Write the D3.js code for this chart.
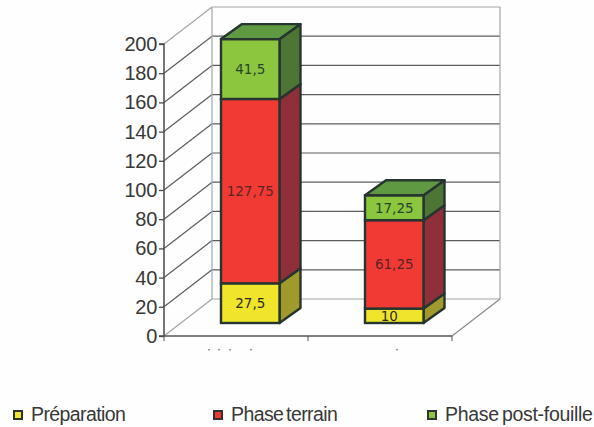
<!DOCTYPE html>
<html>
<head>
<meta charset="utf-8">
<script src="https://cdnjs.cloudflare.com/ajax/libs/d3/7.8.5/d3.min.js"></script>
<style>
html,body{margin:0;padding:0;background:#fefefe;}
svg{display:block;}
</style>
</head>
<body>
<svg id="chart" width="594" height="427"></svg>
<script>
const categories = ["A", "B"];
const seriesNames = ["Préparation", "Phase terrain", "Phase post-fouille"];
const preparation = [27.5, 10];
const phaseTerrain = [127.75, 61.25];
const phasePostFouille = [41.5, 17.25];
const valueTicks = [0, 20, 40, 60, 80, 100, 120, 140, 160, 180, 200];
const valueLabels = [["27,5", "10"], ["127,75", "61,25"], ["41,5", "17,25"]];

const frontColors = ["#f0e52a", "#f23a35", "#8cc63e"];
const sideColors = ["#a09a2c", "#8f2f3a", "#4d7535"];
const topColors = ["#a8a030", "#a03038", "#5f9a42"];
const outline = "#26352f";

const svg = d3.select("#chart");

const y = d3.scaleLinear().domain([0, 200]).range([336, 44]);
const yBar = d3.scaleLinear().domain([0, 200]).range([323, 34.4]);
const x = d3.scaleBand().domain(categories).range([164, 452]);
const depth = { x: 48, y: -37 };
const barDepth = { x: 21, y: -15 };
const barWidth = 58.5;
const barShift = 57;

const pathOf = pts => "M" + pts.map(p => p.join(",")).join("L") + "Z";
const line = (a, b, stroke, w) => svg.append("line")
  .attr("x1", a[0]).attr("y1", a[1]).attr("x2", b[0]).attr("y2", b[1])
  .attr("stroke", stroke).attr("stroke-width", w);

const [x0, x1] = x.range();

// Back wall, left wall and floor edges
valueTicks.forEach(t => {
  const yy = y(t);
  const c = (t === 0 || t === 200) ? "#a5a5a5" : "#5c5c5c";
  line([x0, yy], [x0 + depth.x, yy + depth.y], c, 1.2);
  line([x0 + depth.x, yy + depth.y], [x1 + depth.x, yy + depth.y], c, 1.2);
});
line([x0 + depth.x, y(200) + depth.y], [x0 + depth.x, y(0) + depth.y], "#a5a5a5", 1.2);
line([x1 + depth.x, y(200) + depth.y], [x1 + depth.x, y(0) + depth.y], "#a5a5a5", 1.2);
line([x1, y(0)], [x1 + depth.x, y(0) + depth.y], "#8a8a8a", 1.2);

// Value axis
const axisLeft = d3.axisLeft(y).tickValues(valueTicks).tickSize(5).tickPadding(2).tickFormat(d3.format("d"));
const gy = svg.append("g").attr("transform", `translate(${x0},0)`).call(axisLeft);
gy.selectAll("path").attr("d", `M-5,${y(200)}H0V${y(0)}H-5`).attr("stroke", "#4a4a4a").attr("stroke-width", 1.5).attr("fill", "none");
gy.selectAll("line").attr("stroke", "#4a4a4a").attr("stroke-width", 1.3);
gy.selectAll("text")
  .attr("font-family", "'Liberation Sans', Arial, sans-serif")
  .attr("font-size", 20).attr("fill", "#383838").attr("letter-spacing", -0.3);

// Category axis: baseline and ticks
line([x0, y(0)], [x1, y(0)], "#555", 1.5);
[x0, x0 + x.step(), x1].forEach(px => line([px, y(0)], [px, y(0) + 5], "#555", 1));

// Faint remnants under the category axis
const categoryMarks = [["A", [208, 218, 229, 250]], ["B", [396]]];
categoryMarks.forEach(([, xs]) => xs.forEach(px =>
  svg.append("rect").attr("x", px).attr("y", 349).attr("width", 2).attr("height", 1.5).attr("fill", "#999")));

// Stacked 3D columns
const series = [preparation, phaseTerrain, phasePostFouille];
categories.forEach((cat, ci) => {
  const left = x(cat) + barShift;
  const right = left + barWidth;
  let cum = 0;
  series.forEach((vals, si) => {
    const bottom = yBar(cum);
    cum += vals[ci];
    const top = yBar(cum);
    // side face
    svg.append("path").attr("d", pathOf([
      [right, bottom], [right + barDepth.x, bottom + barDepth.y],
      [right + barDepth.x, top + barDepth.y], [right, top]
    ])).attr("fill", sideColors[si]).attr("stroke", outline).attr("stroke-width", 2.4).attr("stroke-linejoin", "round");
    // front face
    svg.append("rect").attr("x", left).attr("y", top).attr("width", barWidth).attr("height", bottom - top)
      .attr("fill", frontColors[si]).attr("stroke", outline).attr("stroke-width", 2.4);
    // cap on the top segment only
    if (si === series.length - 1) {
      svg.append("path").attr("d", pathOf([
        [left, top], [left + barDepth.x, top + barDepth.y],
        [right + barDepth.x, top + barDepth.y], [right, top]
      ])).attr("fill", topColors[si]).attr("stroke", outline).attr("stroke-width", 2.4).attr("stroke-linejoin", "round");
    }
    svg.append("text")
      .attr("x", left + barWidth / 2 + (valueLabels[si][ci] === "10" ? -5 : 0))
      .attr("y", (top + bottom) / 2 + 5)
      .attr("text-anchor", "middle")
      .attr("font-family", "'DejaVu Sans', Verdana, sans-serif")
      .attr("font-size", 13.5)
      .attr("fill", si === 1 ? "#5a2426" : (si === 2 ? "#24452c" : "#2a2a28"))
      .text(valueLabels[si][ci]);
  });
});

// Legend
const legendX = [14, 214, 428];
const legendText = [31, 231, 445];
const legendSpacing = [-0.6, -0.6, -0.3];
seriesNames.forEach((name, i) => {
  svg.append("rect").attr("x", legendX[i]).attr("y", 411).attr("width", 8).attr("height", 8)
    .attr("fill", frontColors[i]).attr("stroke", "#2f3330").attr("stroke-width", 2);
  svg.append("text").attr("x", legendText[i]).attr("y", 421)
    .attr("font-family", "'Liberation Sans', Arial, sans-serif")
    .attr("font-size", 19.5).attr("letter-spacing", legendSpacing[i]).attr("word-spacing", -2)
    .attr("fill", "#383838").text(name);
});
</script>
</body>
</html>
